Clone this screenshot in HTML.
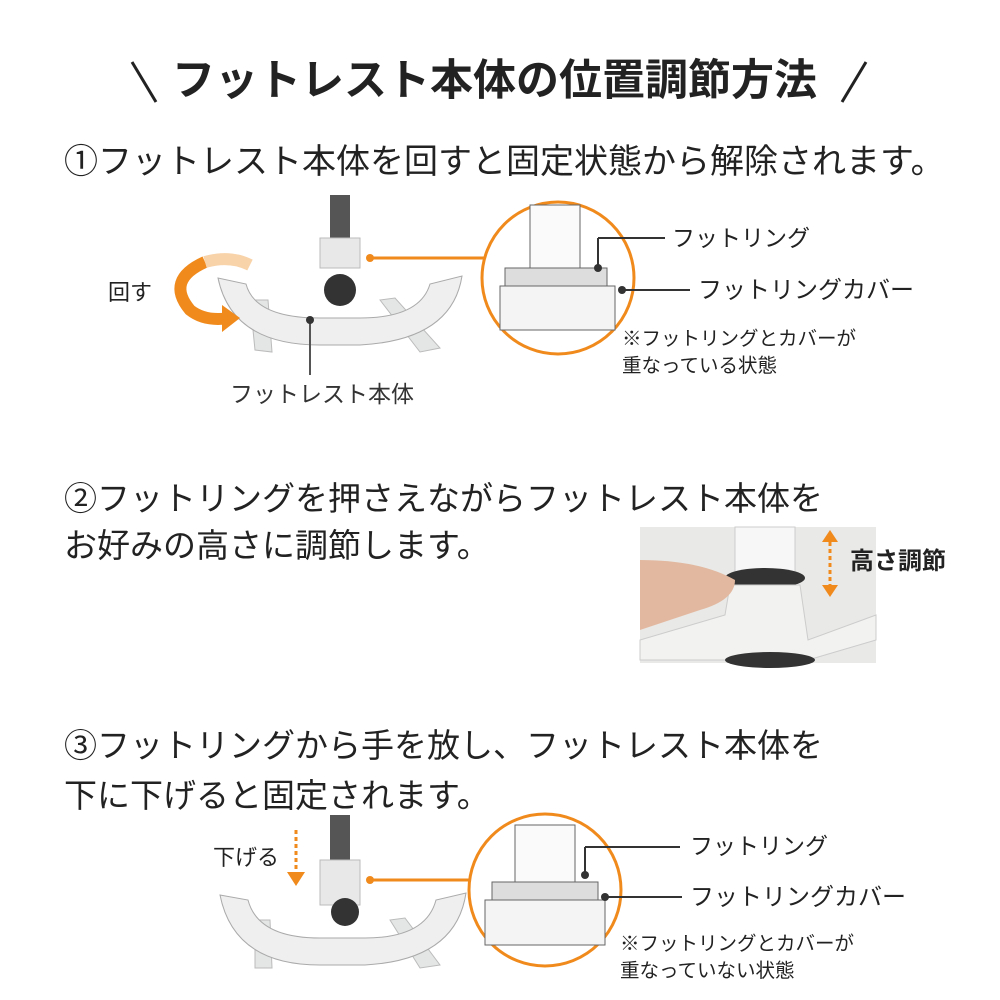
<!DOCTYPE html>
<html><head><meta charset="utf-8">
<style>
body{margin:0;background:#fff;}
#c{position:relative;width:1000px;height:1000px;overflow:hidden;font-family:"Liberation Sans","Noto Sans CJK JP",sans-serif;color:#222;}
.t{position:absolute;white-space:nowrap;line-height:1;}
svg{position:absolute;left:0;top:0;}
</style></head><body><div id="c">
<svg width="1000" height="1000" viewBox="0 0 1000 1000">
 <line x1="132" y1="62" x2="156" y2="102" stroke="#222" stroke-width="3"/>
 <line x1="866" y1="62" x2="842" y2="102" stroke="#222" stroke-width="3"/>

 <g>
  <path d="M250 300 L255 350 L272 352 L268 300Z" fill="#e4e6e6" stroke="#bbb"/>
  <path d="M380 300 L420 352 L440 348 L395 298Z" fill="#e4e6e6" stroke="#bbb"/>
  <rect x="330" y="195" width="20" height="50" fill="#555"/>
  <rect x="320" y="238" width="40" height="30" fill="#e8e8e8" stroke="#bbb"/>
  <path d="M218 278 Q232 345 320 345 L360 345 Q452 340 462 276 L430 284 Q420 318 360 318 L320 318 Q255 318 246 284Z" fill="#efefef" stroke="#aaa"/>
  <circle cx="340" cy="290" r="16" fill="#333"/>
  <path d="M205 262 Q165 280 190 310 Q205 322 230 318" fill="none" stroke="#f08a1c" stroke-width="12"/>
  <path d="M222 305 L240 318 L222 332Z" fill="#f08a1c"/>
  <path d="M205 262 Q230 255 250 265" fill="none" stroke="#f8d2a8" stroke-width="12"/>
  <line x1="310" y1="320" x2="310" y2="375" stroke="#555" stroke-width="2"/>
  <circle cx="310" cy="320" r="4" fill="#333"/>
  <circle cx="370" cy="258" r="4" fill="#f08a1c"/>
  <line x1="370" y1="258" x2="484" y2="258" stroke="#f08a1c" stroke-width="3"/>
  <circle cx="558" cy="278" r="76" fill="#fff" stroke="#f08a1c" stroke-width="3"/>
  <rect x="530" y="205" width="50" height="65" fill="#fafafa" stroke="#666"/>
  <rect x="505" y="268" width="102" height="18" fill="#ddd" stroke="#666"/>
  <path d="M500 286 L615 286 L615 330 L500 330Z" fill="#f4f4f4" stroke="#666"/>
  <line x1="598" y1="238" x2="665" y2="238" stroke="#333" stroke-width="2"/>
  <line x1="598" y1="238" x2="598" y2="268" stroke="#333" stroke-width="2"/>
  <circle cx="598" cy="268" r="4" fill="#333"/>
  <circle cx="622" cy="290" r="4" fill="#333"/>
  <line x1="622" y1="290" x2="690" y2="290" stroke="#333" stroke-width="2"/>
 </g>

 <rect x="640" y="527" width="236" height="136" fill="#e9e9e7"/>
 <rect x="735" y="527" width="60" height="50" fill="#f7f7f7" stroke="#ccc"/>
 <ellipse cx="765" cy="578" rx="40" ry="10" fill="#333"/>
 <path d="M730 585 L800 585 L808 640 L876 615 L876 640 L808 660 L740 660 L640 660 L640 640 L725 615Z" fill="#f2f2f0" stroke="#ccc"/>
 <path d="M640 560 Q700 560 735 580 Q735 600 700 610 L640 630Z" fill="#e2b9a0"/>
 <ellipse cx="770" cy="660" rx="45" ry="8" fill="#333"/>
 <line x1="830" y1="542" x2="830" y2="585" stroke="#f08a1c" stroke-width="3" stroke-dasharray="4 3"/>
 <path d="M822 542 L830 530 L838 542Z" fill="#f08a1c"/>
 <path d="M822 585 L830 597 L838 585Z" fill="#f08a1c"/>

 <g>
  <path d="M255 920 L255 968 L272 968 L270 920Z" fill="#e4e6e6" stroke="#bbb"/>
  <path d="M390 920 L420 968 L440 965 L405 918Z" fill="#e4e6e6" stroke="#bbb"/>
  <rect x="330" y="815" width="20" height="50" fill="#555"/>
  <rect x="320" y="860" width="40" height="45" fill="#e8e8e8" stroke="#bbb"/>
  <path d="M220 895 Q234 965 320 965 L365 965 Q456 960 466 893 L436 900 Q426 938 365 938 L320 938 Q258 938 248 900Z" fill="#efefef" stroke="#aaa"/>
  <circle cx="345" cy="912" r="14" fill="#333"/>
  <line x1="296" y1="830" x2="296" y2="872" stroke="#f08a1c" stroke-width="3" stroke-dasharray="4 3"/>
  <path d="M287 872 L296 886 L305 872Z" fill="#f08a1c"/>
  <circle cx="370" cy="880" r="4" fill="#f08a1c"/>
  <line x1="370" y1="880" x2="470" y2="880" stroke="#f08a1c" stroke-width="3"/>
  <circle cx="545" cy="890" r="76" fill="#fff" stroke="#f08a1c" stroke-width="3"/>
  <rect x="515" y="825" width="60" height="60" fill="#fafafa" stroke="#666"/>
  <rect x="492" y="882" width="106" height="18" fill="#ddd" stroke="#666"/>
  <path d="M485 900 L605 900 L605 945 L485 945Z" fill="#f4f4f4" stroke="#666"/>
  <line x1="585" y1="847" x2="680" y2="847" stroke="#333" stroke-width="2"/>
  <line x1="585" y1="847" x2="585" y2="875" stroke="#333" stroke-width="2"/>
  <circle cx="585" cy="875" r="4" fill="#333"/>
  <circle cx="605" cy="897" r="4" fill="#333"/>
  <line x1="605" y1="897" x2="682" y2="897" stroke="#333" stroke-width="2"/>
 </g>
</svg>

<div class="t" style="left:172px;top:60px;font-size:43px;font-weight:bold;">フットレスト本体の位置調節方法</div>
<div class="t" style="left:64px;top:145px;font-size:34px;">①フットレスト本体を回すと固定状態から解除されます。</div>
<div class="t" style="left:108px;top:282px;font-size:22px;">回す</div>
<div class="t" style="left:230px;top:383px;font-size:23px;color:#333;">フットレスト本体</div>
<div class="t" style="left:672px;top:227px;font-size:23px;">フットリング</div>
<div class="t" style="left:698px;top:279px;font-size:24px;">フットリングカバー</div>
<div class="t" style="left:622px;top:330px;font-size:19.5px;">※フットリングとカバーが</div>
<div class="t" style="left:622px;top:357px;font-size:19.5px;">重なっている状態</div>

<div class="t" style="left:64px;top:482px;font-size:33px;">②フットリングを押さえながらフットレスト本体を</div>
<div class="t" style="left:64px;top:529px;font-size:33px;">お好みの高さに調節します。</div>
<div class="t" style="left:850px;top:550px;font-size:24px;font-weight:bold;">高さ調節</div>

<div class="t" style="left:64px;top:729px;font-size:33px;">③フットリングから手を放し、フットレスト本体を</div>
<div class="t" style="left:64px;top:779px;font-size:33px;">下に下げると固定されます。</div>
<div class="t" style="left:213px;top:847px;font-size:22px;">下げる</div>
<div class="t" style="left:690px;top:835px;font-size:23px;">フットリング</div>
<div class="t" style="left:690px;top:886px;font-size:24px;">フットリングカバー</div>
<div class="t" style="left:620px;top:935px;font-size:19.5px;">※フットリングとカバーが</div>
<div class="t" style="left:620px;top:962px;font-size:19.5px;">重なっていない状態</div>
</div></body></html>
